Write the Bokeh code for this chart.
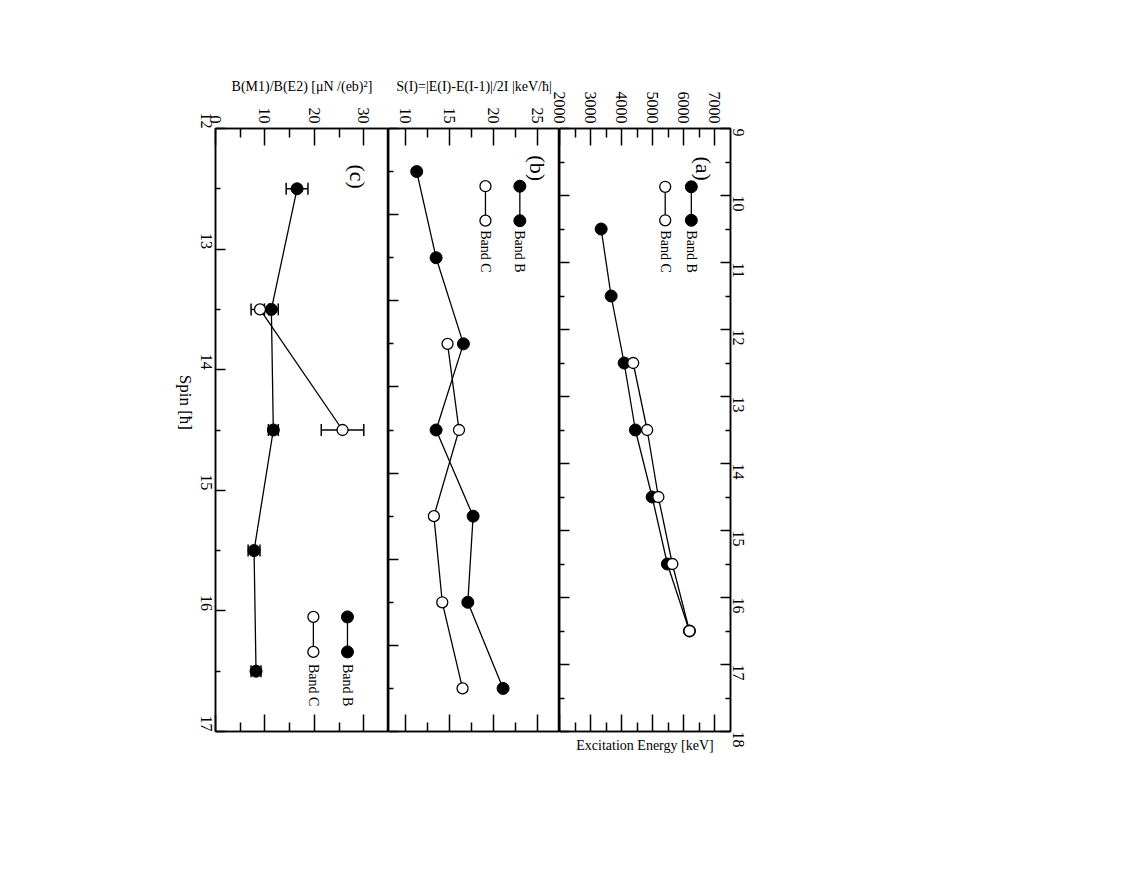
from math import pi
from bokeh.plotting import figure
from bokeh.layouts import row
from bokeh.models import (Range1d, LinearAxis, FixedTicker, Label, Whisker,
                          ColumnDataSource, TeeHead)
from bokeh.embed import file_html
from bokeh.resources import INLINE

# ---------------- data ----------------
# panel (a): excitation energy vs spin
spin_a_B = [10.5, 11.5, 12.5, 13.5, 14.5, 15.5, 16.5]
energy_B = [3340, 3660, 4080, 4440, 4980, 5470, 6180]
spin_a_C = [12.5, 13.5, 14.5, 15.5, 16.5]
energy_C = [4370, 4820, 5180, 5630, 6180]

# panel (b): S(I)
spin_b_B = [10.5, 11.5, 12.5, 13.5, 14.5, 15.5, 16.5]
s_B = [11.3, 13.5, 16.6, 13.5, 17.7, 17.1, 21.1]
spin_b_C = [12.5, 13.5, 14.5, 15.5, 16.5]
s_C = [14.8, 16.1, 13.25, 14.2, 16.5]

# panel (c): B(M1)/B(E2)
spin_c_B = [12.5, 13.5, 14.5, 15.5, 16.5]
ratio_B = [16.5, 11.3, 11.7, 7.8, 8.2]
ratio_B_err = [2.2, 1.4, 1.0, 1.2, 1.0]
spin_c_C = [13.5, 14.5]
ratio_C = [9.0, 25.7]
ratio_C_err = [1.8, 4.3]

series_names = ["Band B", "Band C"]
panel_tags = ["(a)", "(b)", "(c)"]

FONT = "Liberation Serif"
FRAME_H = 603
TOP = 128
BOTTOM = 40


def make_fig(xr, yr, fw, left, right):
    p = figure(frame_width=fw, frame_height=FRAME_H, x_range=xr, y_range=yr,
               x_axis_location=None, y_axis_location=None,
               output_backend="svg", toolbar_location=None,
               min_border_left=left, min_border_right=right,
               min_border_top=TOP, min_border_bottom=BOTTOM)
    for g in p.grid:
        g.visible = False
    p.outline_line_color = "black"
    p.outline_line_width = 1.5
    p.background_fill_color = "white"
    p.border_fill_color = "white"
    return p


def add_axis(p, side, ticks, minor, tlen, mlen, labels=False, title=None):
    ax = LinearAxis()
    ax.ticker = FixedTicker(ticks=ticks, minor_ticks=minor)
    ax.major_tick_in = tlen
    ax.major_tick_out = 0
    ax.minor_tick_in = mlen
    ax.minor_tick_out = 0
    ax.axis_line_width = 1.5
    ax.axis_line_color = "black"
    ax.major_tick_line_width = 1.5
    ax.minor_tick_line_width = 1.5
    ax.major_tick_line_color = "black"
    ax.minor_tick_line_color = "black"
    if labels:
        ax.major_label_orientation = -pi / 2
        ax.major_label_text_font = FONT
        ax.major_label_text_font_size = "16px"
        ax.major_label_text_color = "black"
        ax.major_label_standoff = 5
    else:
        ax.major_label_text_font_size = "0px"
        ax.major_label_text_color = None
        ax.major_label_standoff = 0
    if title is not None:
        ax.axis_label = title
        ax.axis_label_text_font = FONT
        ax.axis_label_text_font_size = "14px"
        ax.axis_label_text_font_style = "normal"
        ax.axis_label_text_color = "black"
        ax.axis_label_standoff = 11
    p.add_layout(ax, side)
    return ax


def draw_series(p, x, y, filled):
    p.line(x, y, line_color="black", line_width=1.3)
    if filled:
        p.scatter(x, y, marker="circle", size=12, fill_color="black",
                  line_color="black")
    else:
        p.scatter(x, y, marker="circle", size=11, fill_color="white",
                  line_color="black", line_width=1.3)


def draw_legend(p, xB, xC, y0, y1, ytext):
    for xx, filled, name in [(xB, True, series_names[0]), (xC, False, series_names[1])]:
        draw_series(p, [xx, xx], [y0, y1], filled)
        p.add_layout(Label(x=xx, y=ytext, text=name, angle=-pi / 2,
                           text_align="left", text_baseline="middle",
                           text_font=FONT, text_font_size="14px",
                           text_color="black"))


def tag(p, x, y, text):
    p.add_layout(Label(x=x, y=y, text=text, angle=-pi / 2,
                       text_align="center", text_baseline="middle",
                       text_font=FONT, text_font_size="22px",
                       text_color="black"))


half = lambda a, b: [a + 0.5 + i for i in range(int(b - a))]

# ---------------- panel (c) ----------------
pc = make_fig(Range1d(0, 35), Range1d(17, 12), 173, 215, 0)
add_axis(pc, "above", [0, 10, 20, 30], [5, 15, 25], 17, 9, labels=True,
         title="B(M1)/B(E2) [μN /(eb)²]")
add_axis(pc, "below", [0, 10, 20, 30], [5, 15, 25], 17, 9)
axc = add_axis(pc, "left", list(range(12, 18)), half(12, 17), 10, 5, labels=True,
               title="Spin [ħ]")
axc.major_label_standoff = 9
axc.axis_label_text_font_size = "17px"
axc.axis_label_standoff = 7
axc.axis_label_orientation = -pi / 2

srcB = ColumnDataSource(dict(y=spin_c_B,
                             lo=[v - e for v, e in zip(ratio_B, ratio_B_err)],
                             hi=[v + e for v, e in zip(ratio_B, ratio_B_err)]))
srcC = ColumnDataSource(dict(y=spin_c_C,
                             lo=[v - e for v, e in zip(ratio_C, ratio_C_err)],
                             hi=[v + e for v, e in zip(ratio_C, ratio_C_err)]))
for src in (srcB, srcC):
    pc.add_layout(Whisker(source=src, base="y", lower="lo", upper="hi",
                          dimension="width", line_color="black", line_width=1.5,
                          lower_head=TeeHead(size=12, line_width=1.5, line_color="black"),
                          upper_head=TeeHead(size=12, line_width=1.5, line_color="black")))
draw_series(pc, ratio_B, spin_c_B, True)
draw_series(pc, ratio_C, spin_c_C, False)
draw_legend(pc, 26.7, 19.8, 16.05, 16.34, 16.44)
tag(pc, 28.7, 12.4, panel_tags[2])

# ---------------- panel (b) ----------------
pb = make_fig(Range1d(8.1, 27.5), Range1d(17, 10), 171, 0, 0)
add_axis(pb, "above", [10, 15, 20, 25], [12.5, 17.5, 22.5], 17, 9, labels=True,
         title="S(I)=|E(I)-E(I-1)|/2I |keV/ħ|")
add_axis(pb, "below", [10, 15, 20, 25], [12.5, 17.5, 22.5], 17, 9)
add_axis(pb, "left", list(range(10, 18)), half(10, 17), 10, 5)
draw_series(pb, s_B, spin_b_B, True)
draw_series(pb, s_C, spin_b_C, False)
draw_legend(pb, 23.0, 19.1, 10.67, 11.07, 11.18)
tag(pb, 25.0, 10.46, panel_tags[1])

# ---------------- panel (a) ----------------
pa = make_fig(Range1d(2000, 7500), Range1d(18, 9), 171, 10, 30)
pa.border_fill_color = None
pa.margin = (0, 0, 0, -10)
add_axis(pa, "above", [2000, 3000, 4000, 5000, 6000, 7000],
         [2500, 3500, 4500, 5500, 6500], 17, 9, labels=True)
axa = add_axis(pa, "below", [2000, 3000, 4000, 5000, 6000, 7000],
               [2500, 3500, 4500, 5500, 6500], 17, 9, title="Excitation Energy [keV]")
axa.axis_label_standoff = 6
add_axis(pa, "left", list(range(9, 19)), half(9, 18), 10, 5)
axr = add_axis(pa, "right", list(range(9, 19)), half(9, 18), 10, 5, labels=True)
axr.major_label_standoff = 8
draw_series(pa, energy_B, spin_a_B, True)
draw_series(pa, energy_C, spin_a_C, False)
draw_legend(pa, 6240, 5400, 9.87, 10.37, 10.52)
tag(pa, 6640, 9.6, panel_tags[0])

layout = row(pc, pb, pa, spacing=0)
open("out.html", "w").write(file_html(layout, INLINE))
